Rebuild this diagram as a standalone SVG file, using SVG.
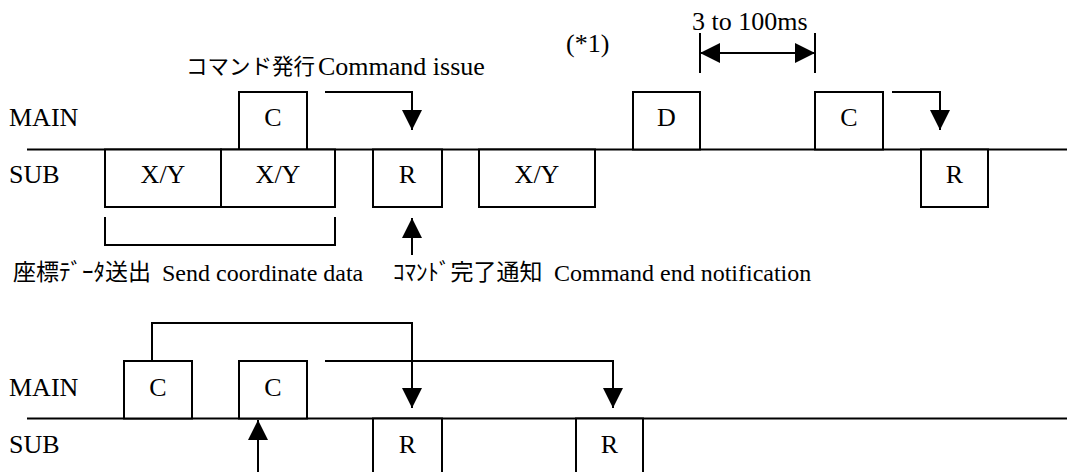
<svg xmlns="http://www.w3.org/2000/svg" width="1067" height="472" viewBox="0 0 1067 472">
<style>
.box{fill:#fff;stroke:#000;stroke-width:2}
.ln{fill:none;stroke:#000;stroke-width:2}
.bt{text-anchor:middle}
</style>
<defs>
<marker id="ah" markerUnits="userSpaceOnUse" markerWidth="20" markerHeight="20" refX="20" refY="10" orient="auto-start-reverse" viewBox="0 0 20 20">
<path d="M0,0 L20,10 L0,20 z" fill="#000"/>
</marker>
</defs>
<rect width="1067" height="472" fill="#fff"/>

<g id="timelines">
<line class="ln" x1="27" y1="149.5" x2="1067" y2="149.5"/>
<line class="ln" x1="27" y1="418.5" x2="1067" y2="418.5"/>
</g>

<g font-family="'Liberation Serif', serif" font-size="26" fill="#000">
<g id="lane-labels">
<text x="9" y="126">MAIN</text>
<text x="9" y="183">SUB</text>
<text x="9" y="396">MAIN</text>
<text x="9" y="453">SUB</text>
</g>

<g id="top-C1"><rect class="box" x="239" y="92" width="68" height="57.5"/><text class="bt" x="273" y="126">C</text></g>
<g id="top-XY1"><rect class="box" x="105" y="149.5" width="116" height="57.5"/><text class="bt" x="163" y="183">X/Y</text></g>
<g id="top-XY2"><rect class="box" x="221" y="149.5" width="114" height="57.5"/><text class="bt" x="278" y="183">X/Y</text></g>
<g id="top-R1"><rect class="box" x="373" y="149.5" width="69" height="57.5"/><text class="bt" x="407.5" y="183">R</text></g>
<g id="top-XY3"><rect class="box" x="479" y="149.5" width="116" height="57.5"/><text class="bt" x="537" y="183">X/Y</text></g>
<g id="top-D"><rect class="box" x="633" y="92" width="67" height="57.5"/><text class="bt" x="666.5" y="126">D</text></g>
<g id="top-C2"><rect class="box" x="815" y="92" width="68" height="57.5"/><text class="bt" x="849" y="126">C</text></g>
<g id="top-R2"><rect class="box" x="921" y="149.5" width="67" height="57.5"/><text class="bt" x="954.5" y="183">R</text></g>

<g id="bot-C1"><rect class="box" x="124" y="361" width="68" height="57.5"/><text class="bt" x="158" y="396">C</text></g>
<g id="bot-C2"><rect class="box" x="239" y="361" width="68" height="57.5"/><text class="bt" x="273" y="396">C</text></g>
<g id="bot-R1"><rect class="box" x="373" y="418.5" width="69" height="70"/><text class="bt" x="407.5" y="453">R</text></g>
<g id="bot-R2"><rect class="box" x="576" y="418.5" width="67" height="70"/><text class="bt" x="609.5" y="453">R</text></g>

<g id="annotations">
<text x="692" y="30">3 to 100ms</text>
<text x="566" y="52">(*1)</text>
<text><tspan font-family="'Noto Sans CJK JP', sans-serif" font-size="21.5" x="186" y="74">コマンド発行</tspan><tspan x="318" y="75">Command issue</tspan></text>
<text font-size="24"><tspan font-family="'Noto Sans CJK JP', sans-serif" font-size="23" x="13" y="280">座標ﾃﾞｰﾀ送出</tspan><tspan x="162" y="281">Send coordinate data</tspan></text>
<text font-size="24"><tspan font-family="'Noto Sans CJK JP', sans-serif" font-size="23" x="393" y="280">ｺﾏﾝﾄﾞ完了通知</tspan><tspan x="554" y="281">Command end notification</tspan></text>
</g>
</g>

<g id="connectors">
<path class="ln" d="M325,92 H412 V130" marker-end="url(#ah)"/>
<path class="ln" d="M892,92 H940 V130" marker-end="url(#ah)"/>
<path class="ln" d="M412,255 V218" marker-end="url(#ah)"/>
<path class="ln" d="M700,53 H815" marker-start="url(#ah)" marker-end="url(#ah)"/>
<path class="ln" d="M700,33 V73 M815,33 V73"/>
<path class="ln" d="M105,217 V245 H335 V217"/>
<path class="ln" d="M152,361 V323 H412 V408" marker-end="url(#ah)"/>
<path class="ln" d="M325,361 H613 V408" marker-end="url(#ah)"/>
<path class="ln" d="M258,472 V420" marker-end="url(#ah)"/>
</g>
</svg>
